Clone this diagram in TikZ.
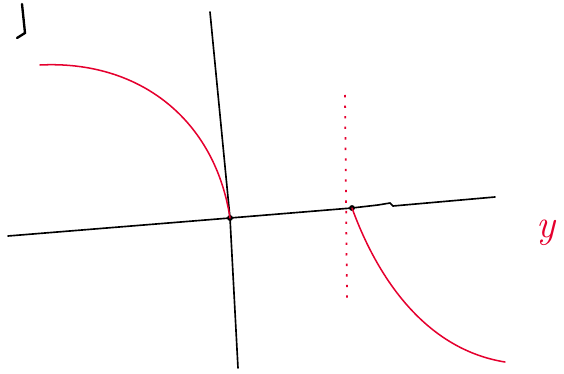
\documentclass[tikz,border=0pt]{standalone}
\begin{document}
\begin{tikzpicture}[x=0.03cm,y=-0.03cm,
  axis/.style={line width=1.4pt,black,line cap=round},
  curve/.style={line width=1.3pt,red!80!magenta!90!black,line cap=round},
  guide/.style={line width=1.5pt,red!80!magenta!90!black,dash pattern=on 2pt off 7pt},
  dot/.style={circle,fill=black,inner sep=0pt,minimum size=5pt}]
\useasboundingbox (0,0) rectangle (564,374);
% fragment at top-left
\draw[axis,line width=2pt] (22,4) -- (25,33) -- (17,38);
% axes
\coordinate (xl) at (8,236);
\coordinate (xr) at (495,197);
\coordinate (yt) at (210,12);
\coordinate (yb) at (238,368);
\node[dot] (o) at (230,218) {};
\node[dot] (p) at (352,208) {};
\draw[axis] (xl) -- (o.center) -- (p.center) -- (378,205) -- (390,203) -- (393,206) -- (xr);
\draw[axis] (yt) -- (o.center) -- (yb);
% red curves
\coordinate (a) at (40,65);
\coordinate (b) at (505,362);
\draw[curve] (a) .. controls (140,60) and (215,120) .. (o.center);
\draw[curve] (p.center) .. controls (380,285) and (430,350) .. (b);
% dotted guide
\coordinate (gt) at (345,95);
\coordinate (gb) at (347,298);
\draw[guide] (gt) -- (gb);
% label
\node[text=red!80!magenta!90!black,font=\fontsize{34}{38}\selectfont\itshape] (ylab) at (546,233) {y};
\end{tikzpicture}
\end{document}
